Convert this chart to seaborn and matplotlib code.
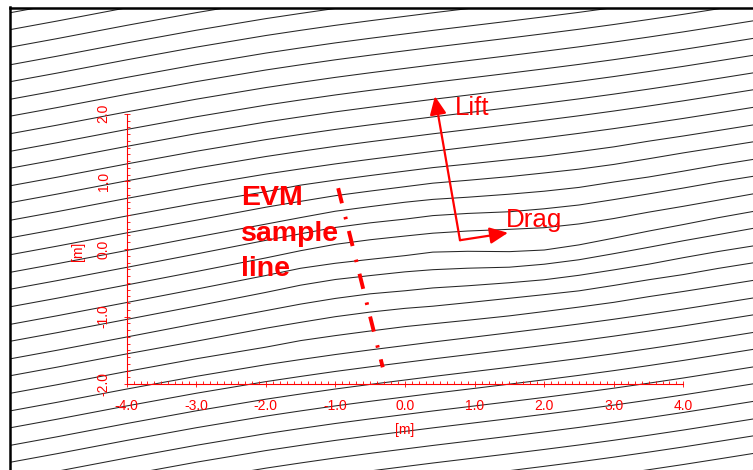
import numpy as np
import pandas as pd
import matplotlib
matplotlib.use("Agg")
import matplotlib.pyplot as plt
import seaborn as sns
from matplotlib.ticker import FixedLocator

# ---- streamline field [m] ----
# streamwise stations where every streamline is sampled
station_x = [-5.7, -5.0, -4.0, -3.0, -2.0, -1.5, -1.0, -0.5, 0.0, 0.4,
             0.9, 1.5, 2.0, 2.5, 3.0, 3.5, 4.0, 4.5, 5.0]
# rise of an undisturbed streamline measured from the left edge
freestream_rise = [0.000, 0.132, 0.328, 0.516, 0.688, 0.765, 0.839, 0.907, 0.972,
                   1.024, 1.086, 1.161, 1.225, 1.291, 1.361, 1.435, 1.512, 1.593, 1.675]
# height at which each streamline enters on the left
inlet_y = [3.49, 3.24, 2.98, 2.72, 2.47, 2.21, 1.96, 1.70, 1.44, 1.19, 0.93, 0.68,
           0.42, 0.16, -0.09, -0.35, -0.60, -0.86, -1.12, -1.37, -1.63, -1.88,
           -2.14, -2.40, -2.65, -2.91, -3.16, -3.42, -3.67, -3.93, -4.19, -4.44,
           -4.70, -4.95, -5.21]
# local displacement of the streamlines passing close to the section
deflection = {
    13: [0, 0, 0, 0, 0, 0.02, 0.02, 0.02, 0.02, 0.02, 0.01, 0, -0.01, -0.01, -0.01, 0, 0, 0, 0],
    14: [0, 0, 0, 0, 0.02, 0.03, 0.04, 0.04, 0.04, 0.04, 0.02, 0, -0.01, -0.02, -0.02, -0.01, 0, 0, 0],
    15: [0, 0, 0, 0.01, 0.03, 0.05, 0.07, 0.07, 0.07, 0.06, 0.03, 0, -0.02, -0.03, -0.02, -0.02, -0.01, 0, 0],
    16: [0, 0, 0, 0.01, 0.04, 0.06, 0.08, 0.08, 0.07, 0.07, 0.04, -0.01, -0.03, -0.04, -0.03, -0.02, -0.01, 0, 0],
    17: [0, 0, 0, 0.01, 0.04, 0.07, 0.09, 0.09, 0.08, 0.07, 0.04, -0.01, -0.05, -0.06, -0.05, -0.03, -0.02, -0.01, 0],
    18: [0, 0, 0, 0.01, 0.04, 0.07, 0.07, 0.06, 0.05, 0.05, 0, -0.08, -0.12, -0.11, -0.08, -0.05, -0.03, -0.01, 0],
    19: [0, 0, 0, 0.01, 0.04, 0.07, 0.08, 0.07, 0.06, 0.04, 0, -0.06, -0.08, -0.08, -0.06, -0.04, -0.02, -0.01, 0],
    20: [0, 0, 0, 0.01, 0.03, 0.05, 0.06, 0.06, 0.04, 0.03, 0, -0.03, -0.05, -0.05, -0.04, -0.03, -0.01, 0, 0],
    21: [0, 0, 0, 0, 0.02, 0.03, 0.04, 0.04, 0.03, 0.01, 0, -0.01, -0.02, -0.03, -0.02, -0.01, -0.01, 0, 0],
    22: [0, 0, 0, 0, 0, 0.02, 0.02, 0.02, 0.02, 0.01, 0, -0.01, -0.01, -0.01, -0.01, 0, 0, 0, 0],
}

# ---- scale bars ----
x_ticks = [-4.0, -3.0, -2.0, -1.0, 0.0, 1.0, 2.0, 3.0, 4.0]
x_tick_labels = ["-4.0", "-3.0", "-2.0", "-1.0", "0.0", "1.0", "2.0", "3.0", "4.0"]
y_ticks = [-2.0, -1.0, 0.0, 1.0, 2.0]
y_tick_labels = ["-2.0", "-1.0", "0.0", "1.0", "2.0"]

# ---- EVM sample line and force directions [m] ----
evm_x = [-0.96, -0.32]
evm_y = [0.90, -1.75]
force_origin = (0.79, 0.13)
lift_tip = (0.43, 2.26)
drag_tip = (1.48, 0.24)

RED = "#ff0000"

sns.set_theme(style="white")
plt.rcParams["font.family"] = ["Liberation Sans", "DejaVu Sans"]

records = []
for k, y_in in enumerate(inlet_y):
    shift = deflection.get(k, [0.0] * len(station_x))
    for xs, rise, d in zip(station_x, freestream_rise, shift):
        records.append((k, xs, y_in + rise + d))
flow = pd.DataFrame(records, columns=["line", "x", "y"])

W, H = 753, 470
fig = plt.figure(figsize=(W / 100, H / 100), dpi=100)
fig.patch.set_facecolor("white")

left_px, top_px = 9.5, 7.5
rect = [left_px / W, 0.0, 1 - left_px / W, (H - top_px) / H]
x0_px, sx = 405.0, 69.6
y0_px, sy = 249.0, 67.6
xlim = ((left_px - x0_px) / sx, (W - x0_px) / sx)
ylim = ((y0_px - H) / sy, (y0_px - top_px) / sy)

# streamlines inside the black frame
ax = fig.add_axes(rect)
sns.lineplot(data=flow, x="x", y="y", units="line", estimator=None, sort=False,
             color="#262626", linewidth=0.75, legend=False, ax=ax)
ax.set_xlim(*xlim)
ax.set_ylim(*ylim)
ax.set(xlabel="", ylabel="", xticks=[], yticks=[])
ax.set_facecolor("white")
for side in ("right", "bottom"):
    ax.spines[side].set_visible(False)
for side in ("top", "left"):
    ax.spines[side].set_visible(True)
    ax.spines[side].set_color("black")
    ax.spines[side].set_linewidth(1.8)

# red metric scale
ax2 = fig.add_axes(rect)
ax2.patch.set_alpha(0)
ax2.set_xlim(*xlim)
ax2.set_ylim(*ylim)
for side in ("top", "right"):
    ax2.spines[side].set_visible(False)
ax2.spines["left"].set_position(("data", -4.0))
ax2.spines["left"].set_bounds(-2.0, 2.0)
ax2.spines["bottom"].set_position(("data", -2.0))
ax2.spines["bottom"].set_bounds(-4.0, 4.0)
for side in ("left", "bottom"):
    ax2.spines[side].set_visible(True)
    ax2.spines[side].set_color(RED)
    ax2.spines[side].set_linewidth(0.8)

ax2.xaxis.set_major_locator(FixedLocator(x_ticks))
ax2.yaxis.set_major_locator(FixedLocator(y_ticks))
ax2.xaxis.set_minor_locator(FixedLocator(np.round(np.arange(-4.0, 4.001, 0.1), 1)))
ax2.yaxis.set_minor_locator(FixedLocator(np.round(np.arange(-2.0, 2.001, 0.1), 1)))
ax2.set_xticklabels(x_tick_labels)
ax2.set_yticklabels(y_tick_labels, rotation=90, va="center")
ax2.tick_params(which="both", colors=RED, labelcolor=RED, width=0.6,
                top=False, right=False, bottom=True, left=True)
ax2.tick_params(which="major", direction="inout", length=5, labelsize=10)
ax2.tick_params(which="minor", direction="in", length=2.4)
ax2.tick_params(axis="x", which="major", pad=8)
ax2.tick_params(axis="y", which="major", pad=9)

ax2.text(0.0, -2.68, "[m]", color=RED, fontsize=10, ha="center", va="center")
ax2.text(-4.70, -0.04, "[m]", color=RED, fontsize=10, ha="center", va="center",
         rotation=90)

# EVM sample line
ax2.plot(evm_x, evm_y, color=RED, linewidth=2.8,
         linestyle=(0, (4.0, 3.6, 0.64, 3.1)), dash_capstyle="butt")
for txt, yb in zip(["EVM", "sample", "line"], [0.651, 0.111, -0.399]):
    ax2.text(-2.356, yb, txt, color=RED, fontsize=20.5, fontweight="bold",
             ha="left", va="baseline")

# lift and drag directions
arrow = dict(arrowstyle="-|>,head_length=1.1,head_width=0.5", color=RED,
             lw=1.6, shrinkA=0, shrinkB=0, mutation_scale=10)
ax2.annotate("", xy=lift_tip, xytext=force_origin, arrowprops=arrow)
ax2.annotate("", xy=drag_tip, xytext=force_origin, arrowprops=arrow)
ax2.text(0.72, 1.982, "Lift", color=RED, fontsize=18.7, ha="left", va="baseline")
ax2.text(1.451, 0.325, "Drag", color=RED, fontsize=18.7, ha="left", va="baseline")

fig.savefig("out.png", dpi=100, facecolor="white")
